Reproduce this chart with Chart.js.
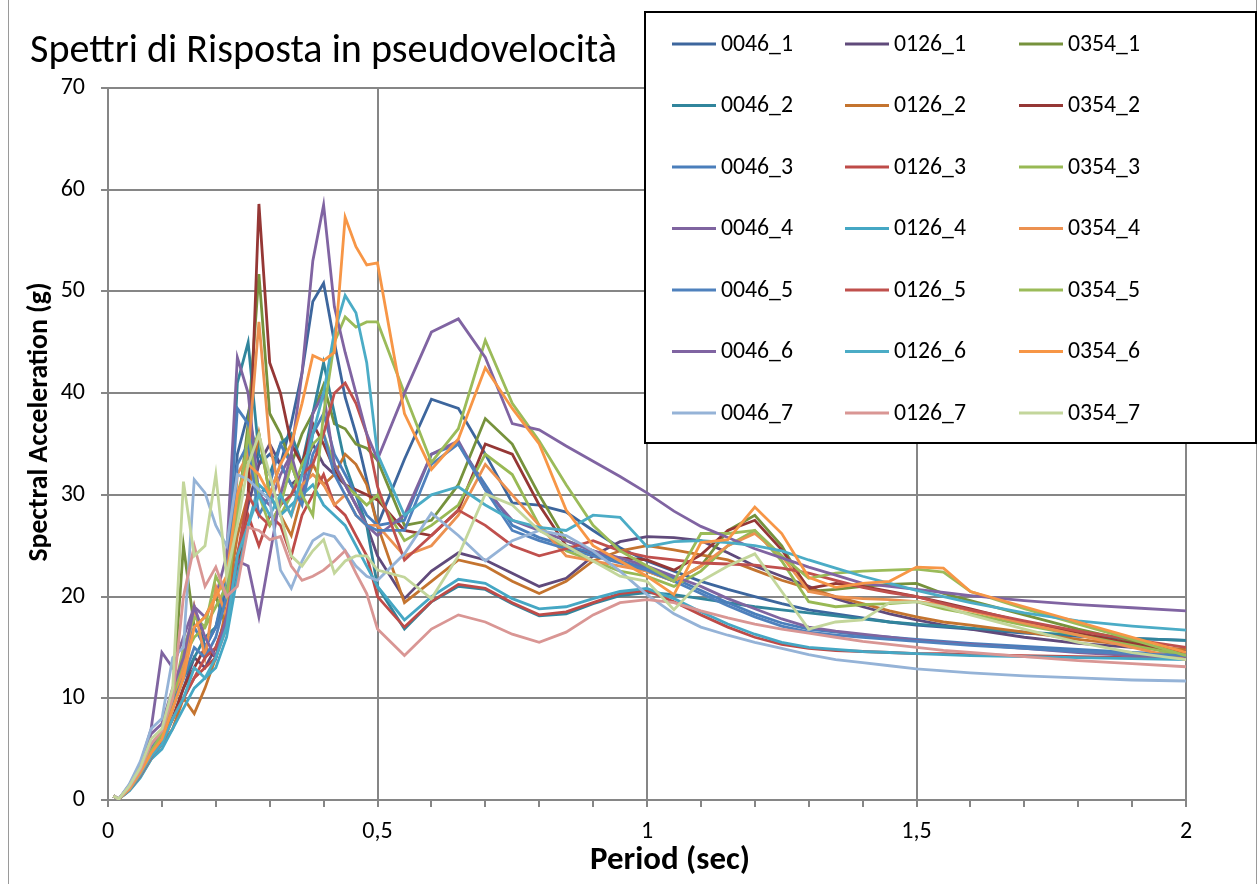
<!DOCTYPE html>
<html>
<head>
<meta charset="utf-8">
<script src="https://cdn.jsdelivr.net/npm/chart.js@4.4.0/dist/chart.umd.min.js"></script>
<style>
  html, body { margin: 0; padding: 0; background: #fff; }
  canvas { display: block; }
</style>
</head>
<body>
<canvas id="myChart" width="1260" height="884" style="width:1260px;height:884px"></canvas>
<script>
// Periods (sec)
const periods = [0.01,0.02,0.04,0.06,0.08,0.10,0.12,0.14,0.16,0.18,0.20,0.22,0.24,0.26,0.28,0.30,0.32,0.34,0.36,0.38,0.40,0.42,0.44,0.46,0.48,0.50,
  0.55,0.60,0.65,0.70,0.75,0.80,0.85,0.90,0.95,1.00,1.05,1.10,1.15,1.20,1.25,1.30,1.35,1.40,1.45,1.50,1.55,1.60,1.70,1.80,1.90,2.00];

// Series values
const s0046_1 = [0.4,0.1,1.3,3.0,5.5,6.5,10,13,19,15,17,21,34,38,33,34,33,37,42,49,50.8,45,39.6,36,31.5,27,
  33.5,39.4,38.5,34,29.2,29,28.3,26.5,24.8,23.5,22.5,21.5,20.7,20,19.3,18.7,18.3,17.9,17.5,17.2,17,16.8,16.4,16.1,15.9,15.7];
const s0126_1 = [0.4,0.1,1.0,2.5,4.5,6,8,11,14,13,15,18,24,29,33,35,33,31,32,35,33,32,31,29,27,24,
  19.8,22.5,24.3,23.6,22.3,21,21.8,24,25.4,25.9,25.8,25.5,24.3,23,22,21,19.8,19,18.3,17.7,17.2,16.8,16,15.4,15,14.7];
const s0354_1 = [0.4,0.1,1.2,2.8,4.5,6,10,25,17,18,20,17,28,37,51.7,38,36,33,36,38,40.8,37,36.5,35,34.6,33.4,
  27,27.5,31,37.5,35,30,25.5,24.5,23.5,22.5,21.5,23,26.5,28,25,20.5,20.7,21,21.2,21.3,20.3,19.6,18.2,16.8,15.6,14.4];
const s0046_2 = [0.4,0.1,1.1,2.6,4.5,5.5,9,12,14,16,17,20,41,45,34,32,35,36,33,38,43,38,33,30,27,21,
  16.8,19.5,21,20.7,19.3,18.1,18.3,19.3,20.1,20.4,20.2,19.8,19.4,19,18.7,18.4,18.1,17.8,17.5,17.3,17.1,16.9,16.5,16.2,15.9,15.7];
const s0126_2 = [0.4,0.1,1.0,2.3,4.0,5.5,7,10,8.5,11,14,19,26,30,36,30,28,26,30,33,31,32,34,33,31,27,
  19.4,21.5,23.6,23,21.5,20.3,21.5,23.5,24.5,25,24.6,24.1,23.6,22.6,21.6,20.8,20,19.3,18.6,18,17.5,17.2,16.5,15.8,15.2,14.8];
const s0354_2 = [0.4,0.1,1.2,2.8,4.5,6,8,11,13,15,14,18,22,30,58.6,43,40,35,33,37,35,32.5,31,30.5,30,29.5,
  26.5,26,28.5,35,34,29,25,24,23.8,23.6,22.6,24.1,26.5,27.5,24.6,20.8,21.3,21,20.5,20,19.4,18.8,17.5,16.4,15.4,14.5];
const s0046_3 = [0.4,0.1,1.3,3.0,5.0,6.5,10,14,17,15,17,22,38.5,37,30,31,35,33,30,36,38,34,32,30,28,27,
  27.5,34,35,31,27,25.8,25,24.3,23.5,22.8,21.8,20.6,19.4,18.3,17.4,16.8,16.5,16.2,16,15.8,15.6,15.4,15.1,14.8,14.5,14.3];
const s0126_3 = [0.4,0.1,1.0,2.4,4.2,5.5,8,10,12,13,14,17,24,28,25,28,27,24,28,30,32,29,28,26,24,20,
  17,19.5,21.2,20.8,19.4,18.2,18.5,19.4,20.3,20.6,19.5,18.2,17,16,15.3,14.9,14.7,14.6,14.5,14.4,14.4,14.3,14.2,14.1,14,14];
const s0354_3 = [0.4,0.1,1.2,2.7,4.6,6,9,14,16,17,19,21,30,34,36,30,28,30,33,35,36,33,31,30,29,30,
  25.5,27,29,34,32,27,24.5,23.5,22.5,22,21,22.5,25,26.5,23.5,19.5,19,19.2,19.3,19.5,18.8,18.3,17.2,16.2,15.2,14.2];
const s0046_4 = [0.4,0.1,1.5,3.5,7,14.5,13,16,19,18,20,24,43.5,40,30,29,32,34,30,38,40,33,31,29,27,26,
  28,34,35.3,30.5,27.5,26.5,25.5,24.5,23.8,23,22,21,19.8,18.8,17.8,17,16.6,16.3,16,15.7,15.5,15.3,14.9,14.5,14.2,14];
const s0126_4 = [0.4,0.1,0.9,2.2,4,5,7,9,11,12,13,16,22,27,31,30,28,29,30,31,29,28,27,25,23,21,
  17.7,20,21.7,21.3,19.8,18.8,19,19.8,20.5,20.8,19.8,18.5,17.3,16.3,15.5,15,14.8,14.6,14.5,14.4,14.3,14.2,14.1,14,13.9,13.8];
const s0354_4 = [0.4,0.1,1.1,2.6,4.5,6,9,13,19,14,21,18,32,34,47,35,30,28,31,32,31,29,30,28,27,27,
  24,25,28,33,30,27,24,23.5,23,22.5,21.5,23,25,26.2,24,20.5,20,19.8,19.7,19.5,19.2,18.6,17.4,16.2,15,13.8];
const s0046_5 = [0.4,0.1,1.2,2.9,5,6.2,9.5,12,15,14,16,20,33,35,28,30,33,31,29,34,36,32,30,28,27,26.5,
  26.5,33,35,30.5,26.5,25.5,24.7,24,23.3,22.6,21.5,20.3,19.1,18,17.1,16.5,16.2,16,15.8,15.6,15.4,15.2,14.9,14.6,14.4,14.2];
const s0126_5 = [0.4,0.1,1.0,2.4,4.2,5.8,8,10,12,14,15,18,24,30,28,27,29,30,32,33,36,40,41,39,36,30.8,
  23.6,26,28.5,27,25,24,24.7,25.5,24.5,23.9,23.6,23.3,23.2,23.1,22.8,22.3,21.6,20.9,20.4,20,19.3,18.7,17.6,16.6,15.8,15];
const s0354_5 = [0.4,0.1,1.2,2.8,4.8,6.5,10,15,18,17,22,20,28,36,30,27,29,33,30,28,38,45,47.5,46.5,47,47,
  40,33.2,36.5,45.2,39,35.3,31,27,24.5,23,21.5,26.2,26.2,26.5,24,21.8,22.3,22.5,22.6,22.7,22.4,20.5,18.8,17.3,15.8,14.2];
const s0046_6 = [0.4,0.1,1.5,3.5,6.5,7.5,11,14,19,16,14,18,23.5,23,18,24,30,34,42,53,58.5,48.5,44,40,36,33.5,
  40,46,47.3,43.5,37,36.4,34.8,33.3,31.8,30.2,28.4,26.9,25.8,24.7,23.8,22.9,22.1,21.3,21,20.7,20.4,20.1,19.6,19.2,18.9,18.6];
const s0126_6 = [0.4,0.1,1.0,2.5,4.3,5.5,8,10,13,12,14,17,24,27,30,28,30,28,32,36,40,46,49.6,47.9,43,34,
  28,30,30.8,29,27.5,26.8,26.5,28,27.8,24.9,25.4,25.5,25.3,25,24.5,23.6,22.8,22,21.3,20.6,20,19.4,18.4,17.6,17.1,16.7];
const s0354_6 = [0.4,0.1,1.1,2.7,4.6,6,9,12,17,18,20,22,30,33,32,30,33,35,39,43.7,43.2,44,57.3,54.4,52.6,52.8,
  38,32.5,35.5,42.5,38.5,35,28.5,25,23.5,22,20.2,25.3,25.6,28.8,26.2,21.9,20.9,21.3,21.5,22.9,22.8,20.5,19,17.5,16,14.5];
const s0046_7 = [0.4,0.1,1.6,3.8,7,8,14,15,31.5,30.2,27,25,32,31.5,30.5,29.5,22.6,20.8,23.5,25.5,26.2,25.9,24.5,23,22,21.6,
  24.2,28.2,26,23.5,25.5,26.5,26,24.5,22.5,20.2,18.3,17,16.2,15.5,14.9,14.3,13.8,13.5,13.2,12.9,12.7,12.5,12.2,12,11.8,11.7];
const s0126_7 = [0.4,0.1,1.3,3.0,5.5,6.8,10,20,25,21,22.9,20,21,26.8,26.5,25.6,25.9,23,21.6,22,22.6,23.5,24.5,22.3,20.3,16.8,
  14.2,16.8,18.2,17.5,16.3,15.5,16.5,18.2,19.4,19.7,19.4,18.6,17.9,17.3,16.8,16.4,16,15.6,15.3,15,14.7,14.5,14.1,13.7,13.4,13.1];
const s0354_7 = [0.4,0.1,1.4,3.2,6,7,11,31.3,24,25,32,22,27,33,35.9,32,28,24,23,24.5,25.6,22.3,23.5,24,24,22.6,
  21.9,19.8,24,30.1,29,26.5,25,23.5,22,21.5,18.7,21.5,23,24.2,20.5,16.8,17.5,17.7,19.4,19.5,19,18.2,16.8,15.5,14.5,13.8];

// Legend order (3 columns)
const seriesNames = ['0046_1','0126_1','0354_1','0046_2','0126_2','0354_2','0046_3','0126_3','0354_3',
  '0046_4','0126_4','0354_4','0046_5','0126_5','0354_5','0046_6','0126_6','0354_6','0046_7','0126_7','0354_7'];
const seriesValues = [s0046_1,s0126_1,s0354_1,s0046_2,s0126_2,s0354_2,s0046_3,s0126_3,s0354_3,
  s0046_4,s0126_4,s0354_4,s0046_5,s0126_5,s0354_5,s0046_6,s0126_6,s0354_6,s0046_7,s0126_7,s0354_7];
const seriesColors = ['#3D669D','#604A7B','#76923C','#31859C','#C4742F','#953735','#4A7EBB','#BE4B48','#98B954',
  '#7F64A0','#45A7C4','#EC9150','#4F81BD','#C0504D','#9BBB59','#8064A2','#4BACC6','#F79646','#95B3D7','#D99694','#C3D69B'];

const xTickValues = [0,0.1,0.2,0.3,0.4,0.5,0.6,0.7,0.8,0.9,1,1.1,1.2,1.3,1.4,1.5,1.6,1.7,1.8,1.9,2];
const titleText = 'Spettri di Risposta in pseudovelocità';
const xTitle = 'Period (sec)';
const yTitle = 'Spectral Acceleration (g)';

const FONT = "Carlito, Calibri, 'Liberation Sans', sans-serif";
const GRID = '#868686';

function isMajor(v) { return Math.abs(v * 2 - Math.round(v * 2)) < 1e-6; }

function fitFont(ctx, text, weight, width) {
  ctx.font = weight + ' 100px ' + FONT;
  const w = ctx.measureText(text).width;
  return weight + ' ' + (100 * width / w).toFixed(2) + 'px ' + FONT;
}

// title, axis titles, legend box, outer frame
const decor = {
  id: 'decor',
  afterDraw(chart) {
    const ctx = chart.ctx;
    ctx.save();
    // outer frame
    ctx.strokeStyle = '#9a9a9a';
    ctx.lineWidth = 1;
    ctx.beginPath();
    ctx.moveTo(8.5, 0); ctx.lineTo(8.5, 884);
    ctx.moveTo(1256.5, 0); ctx.lineTo(1256.5, 884);
    ctx.stroke();

    ctx.fillStyle = '#000';
    // chart title
    ctx.font = fitFont(ctx, titleText, 'normal', 587);
    ctx.textAlign = 'left';
    ctx.textBaseline = 'alphabetic';
    ctx.fillText(titleText, 30, 62);

    // x axis title
    ctx.font = fitFont(ctx, xTitle, 'bold', 160);
    ctx.textAlign = 'center';
    ctx.textBaseline = 'middle';
    ctx.fillText(xTitle, 670, 861);

    // y axis title
    ctx.save();
    ctx.translate(40, 422);
    ctx.rotate(-Math.PI / 2);
    ctx.font = fitFont(ctx, yTitle, 'bold', 279);
    ctx.fillText(yTitle, 0, 0);
    ctx.restore();

    // legend
    ctx.fillStyle = '#fff';
    ctx.fillRect(644, 11, 613, 432);
    ctx.strokeStyle = '#000';
    ctx.lineWidth = 2;
    ctx.strokeRect(645, 12, 611, 431);
    const colX = [672, 845, 1019];
    const labelFont = fitFont(ctx, '0046_1', 'normal', 72);
    ctx.textAlign = 'left';
    ctx.textBaseline = 'middle';
    chart.data.datasets.forEach((ds, i) => {
      const x = colX[i % 3];
      const y = 44 + Math.floor(i / 3) * 61.5;
      ctx.strokeStyle = ds.borderColor;
      ctx.lineWidth = 3;
      ctx.beginPath();
      ctx.moveTo(x, y);
      ctx.lineTo(x + 44, y);
      ctx.stroke();
      ctx.fillStyle = '#000';
      ctx.font = labelFont;
      ctx.fillText(ds.label, x + 49, y + 1);
    });
    ctx.restore();
  }
};

const datasets = seriesNames.map((name, i) => ({
  label: name,
  data: periods.map((p, j) => ({ x: p, y: seriesValues[i][j] })),
  borderColor: seriesColors[i],
  backgroundColor: seriesColors[i],
  borderWidth: 2.8,
  pointRadius: 0,
  tension: 0,
  fill: false,
  order: -i
}));

new Chart('myChart', {
  type: 'line',
  data: { datasets: datasets },
  options: {
    responsive: false,
    animation: false,
    devicePixelRatio: 1,
    layout: { padding: { left: 8, right: 74, top: 88, bottom: 0 } },
    plugins: {
      legend: { display: false },
      title: { display: false },
      tooltip: { enabled: false }
    },
    scales: {
      x: {
        type: 'linear',
        min: 0,
        max: 2,
        afterBuildTicks: (scale) => { scale.ticks = xTickValues.map(v => ({ value: v })); },
        afterFit: (scale) => { scale.height = 84; },
        ticks: {
          autoSkip: false,
          maxRotation: 0,
          padding: 11,
          color: '#000',
          font: { family: FONT, size: 24 },
          callback: (v) => isMajor(v) ? String(Math.round(v * 10) / 10).replace('.', ',') : ''
        },
        grid: {
          color: (c) => isMajor(c.tick.value) ? GRID : 'rgba(0,0,0,0)',
          lineWidth: 2,
          tickColor: GRID,
          tickLength: 7,
          tickWidth: 2
        },
        border: { color: GRID, width: 2 }
      },
      y: {
        min: 0,
        max: 70,
        afterFit: (scale) => { scale.width = 100; },
        ticks: {
          stepSize: 10,
          padding: 16,
          color: '#000',
          font: { family: FONT, size: 24 }
        },
        grid: {
          color: GRID,
          lineWidth: 2,
          tickColor: GRID,
          tickLength: 7,
          tickWidth: 2
        },
        border: { color: GRID, width: 2 }
      }
    }
  },
  plugins: [decor]
});
</script>
</body>
</html>
